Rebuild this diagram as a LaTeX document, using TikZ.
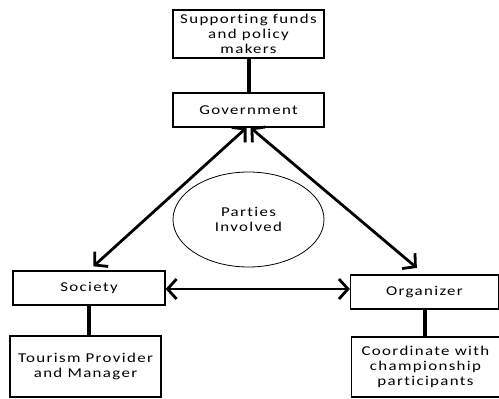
\documentclass[tikz,border=0pt]{standalone}
\usepackage{fontspec}
\setmainfont{Carlito}[FakeStretch=1.25,LetterSpace=10,Ligatures=NoCommon]
\usepackage{tikz}
\usetikzlibrary{arrows.meta}
\usetikzlibrary{shapes.geometric}

\tikzset{
  partybox/.style={draw,line width=1.3pt,align=center,inner sep=0pt,font=\fontsize{13.5}{15}\selectfont},
  roleline/.style={line width=4pt},
  linkarrow/.style={line width=2.8pt,{Straight Barb[length=9pt,width=20pt]}-{Straight Barb[length=9pt,width=20pt]}}
}

\begin{document}
\begin{tikzpicture}[x=1pt,y=-1pt]
  \useasboundingbox (0,0) rectangle (499,399);
  % boxes
  \node[partybox,minimum width=151pt,minimum height=48pt] (funds) at (248.5,34) {Supporting funds\\and policy\\makers};
  \node[partybox,minimum width=151pt,minimum height=34pt] (gov) at (248.5,110) {Government};
  \node[draw,ellipse,line width=0.8pt,align=center,inner sep=0pt,minimum width=151pt,minimum height=95pt,font=\fontsize{13.5}{15}\selectfont] (parties) at (248.5,219.5) {Parties\\Involved};
  \node[partybox,minimum width=152pt,minimum height=34pt] (society) at (89,288) {Society};
  \node[partybox,minimum width=151pt,minimum height=61pt] (tourism) at (85.5,366.5) {Tourism Provider\\and Manager};
  \node[partybox,minimum width=148pt,minimum height=34pt] (organizer) at (424.5,292) {Organizer};
  \node[partybox,minimum width=148pt,minimum height=60pt] (coord) at (425.5,367) {Coordinate with\\championship\\participants};
  % thick links
  \draw[roleline] (funds.south) -- (gov.north);
  \draw[roleline] (society.south) -- (society.south |- tourism.north);
  \draw[roleline] (organizer.south) -- (organizer.south |- coord.north);
  % arrows
  \draw[linkarrow,shorten >=6pt] ([xshift=-2pt]gov.south) -- (society.north);
  \draw[linkarrow,shorten >=10pt] ([xshift=2pt]gov.south) -- (organizer.north);
  \draw[linkarrow] ([yshift=-1pt]society.east) -- ([yshift=-1pt]society.east -| organizer.west);
\end{tikzpicture}
\end{document}
